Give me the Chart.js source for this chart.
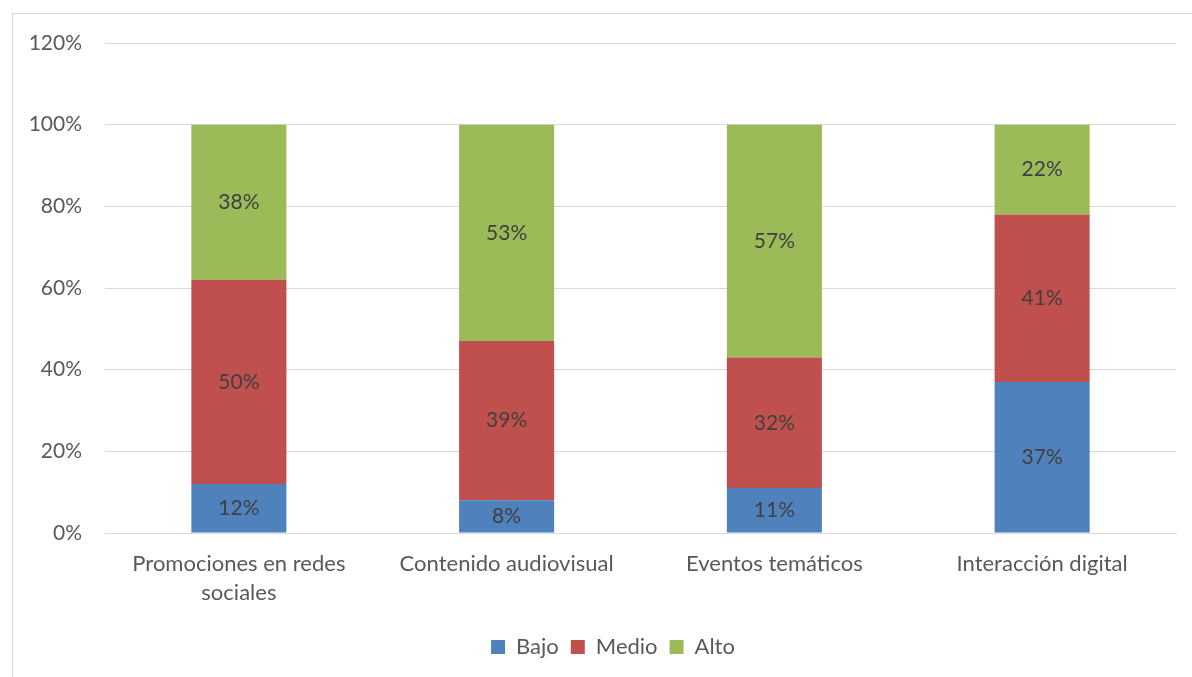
<!DOCTYPE html>
<html lang="es">
<head>
    <meta charset="UTF-8">
    <title>Nivel por estrategia</title>
    <script src="https://cdn.jsdelivr.net/npm/chart.js"></script>
    <style>
        html, body {
            margin: 0;
            padding: 0;
            background: #ffffff;
            overflow: hidden;
        }

        .frame {
            position: absolute;
            left: 12px;
            top: 13px;
            width: 1400px;
            height: 900px;
            border: 1px solid #d9d9d9;
        }

        #chartCanvas {
            position: absolute;
            left: 0;
            top: 0;
        }
    </style>
</head>
<body>
    <div class="frame"></div>
    <canvas id="chartCanvas" width="1192" height="677"></canvas>

    <script>
        const categories = [
            ['Promociones en redes', 'sociales'],
            'Contenido audiovisual',
            'Eventos temáticos',
            'Interacción digital'
        ];
        const bajo = [12, 8, 11, 37];
        const medio = [50, 39, 32, 41];
        const alto = [38, 53, 57, 22];
        const yTicks = [0, 20, 40, 60, 80, 100, 120];

        const fontFamily = 'Lato, "Open Sans", sans-serif';

        // writes the percentage in the middle of each stacked segment
        const segmentLabels = {
            id: 'segmentLabels',
            afterDatasetsDraw(chart) {
                const ctx = chart.ctx;
                ctx.save();
                ctx.font = '21px ' + fontFamily;
                ctx.fillStyle = '#404040';
                ctx.textAlign = 'center';
                ctx.textBaseline = 'middle';
                chart.data.datasets.forEach((ds, i) => {
                    const meta = chart.getDatasetMeta(i);
                    meta.data.forEach((bar, j) => {
                        const y = (bar.y + bar.base) / 2;
                        ctx.fillText(ds.data[j] + '%', bar.x, y);
                    });
                });
                ctx.restore();
            }
        };

        // nudge the legend so it sits in the middle of the framed area
        const legendShift = {
            id: 'legendShift',
            afterLayout(chart) {
                chart.legend.left += 25;
                chart.legend.right += 25;
            }
        };

        new Chart(document.getElementById('chartCanvas'), {
            type: 'bar',
            data: {
                labels: categories,
                datasets: [
                    { label: 'Bajo', data: bajo, backgroundColor: '#4f81bd' },
                    { label: 'Medio', data: medio, backgroundColor: '#c0504d' },
                    { label: 'Alto', data: alto, backgroundColor: '#9bbb59' }
                ]
            },
            options: {
                responsive: false,
                animation: false,
                layout: {
                    padding: { top: 43, right: 16, bottom: 9, left: 0 }
                },
                datasets: {
                    bar: {
                        categoryPercentage: 1,
                        barPercentage: 0.355
                    }
                },
                plugins: {
                    legend: {
                        position: 'bottom',
                        labels: {
                            boxWidth: 14,
                            boxHeight: 14,
                            padding: 12,
                            color: '#595959',
                            font: { family: fontFamily, size: 22 }
                        }
                    },
                    tooltip: { enabled: false }
                },
                scales: {
                    x: {
                        stacked: true,
                        grid: { display: false, drawTicks: false },
                        border: { color: '#d9d9d9' },
                        ticks: {
                            color: '#595959',
                            padding: 17,
                            maxRotation: 0,
                            font: { family: fontFamily, size: 22, lineHeight: 1.3 }
                        },
                        afterFit(scale) {
                            scale.height = 91;
                        }
                    },
                    y: {
                        stacked: true,
                        min: 0,
                        max: 120,
                        grid: { color: '#d9d9d9', lineWidth: 1, drawTicks: false },
                        border: { display: false },
                        afterBuildTicks(scale) {
                            scale.ticks = yTicks.map(v => ({ value: v }));
                        },
                        ticks: {
                            color: '#595959',
                            padding: 23,
                            font: { family: fontFamily, size: 21 },
                            callback: v => v + '%'
                        },
                        afterFit(scale) {
                            scale.width = 105;
                        }
                    }
                }
            },
            plugins: [segmentLabels, legendShift]
        });
    </script>
</body>
</html>
